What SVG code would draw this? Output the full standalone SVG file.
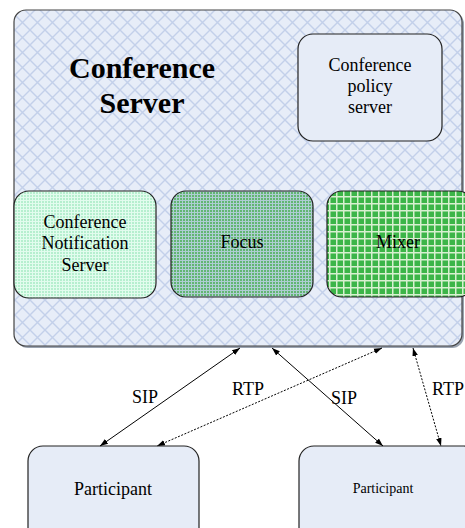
<svg xmlns="http://www.w3.org/2000/svg" width="465" height="528" viewBox="0 0 465 528">
<defs>
<pattern id="diamond" width="15" height="15" patternUnits="userSpaceOnUse">
<rect width="15" height="15" fill="#e7edf8"/>
<path d="M0,0 L15,15 M15,0 L0,15" stroke="#c3d0ea" stroke-width="1.4"/>
</pattern>
<pattern id="dotLight" width="3" height="3" patternUnits="userSpaceOnUse">
<rect width="3" height="3" fill="#e2fcee"/>
<rect width="2" height="2" fill="#b6efcf"/>
</pattern>
<pattern id="dotDark" width="3" height="3" patternUnits="userSpaceOnUse">
<rect width="3" height="3" fill="#aecdd2"/>
<rect width="2" height="2" fill="#62b672"/>
</pattern>
<pattern id="grid" width="7" height="7" patternUnits="userSpaceOnUse">
<rect width="7" height="7" fill="#d8f0d0"/>
<rect x="1.5" y="1.5" width="5.5" height="5.5" fill="#3cb548"/>
</pattern>
<marker id="ah" viewBox="0 0 10 10" refX="10" refY="5" markerWidth="8" markerHeight="8" markerUnits="userSpaceOnUse" orient="auto-start-reverse">
<path d="M0,1.5 L10,5 L0,8.5 Z" fill="#000"/>
</marker>
<style>
.box{stroke:#222;stroke-width:1.2}
.t{font-family:"Liberation Serif","Times New Roman",serif;font-size:18px;fill:#000;text-anchor:middle}
.c{stroke:#000;stroke-width:1;fill:none;marker-start:url(#ah);marker-end:url(#ah)}
.d{stroke-dasharray:2,1.5}
</style>
</defs>
<g id="conference-server">
<rect x="16" y="12" width="448" height="336" rx="12" fill="#9aa3b0"/>
<rect x="14" y="10" width="448" height="336" rx="12" fill="url(#diamond)" stroke="#444" stroke-width="1.2"/>
<text class="t" x="142" y="78" style="font-size:30px;font-weight:bold">Conference</text>
<text class="t" x="142" y="113" style="font-size:30px;font-weight:bold">Server</text>
</g>
<g id="policy-server">
<rect class="box" x="298" y="34" width="144" height="107" rx="15" fill="#e6ecf7"/>
<text class="t" x="370" y="71">Conference</text>
<text class="t" x="370" y="92">policy</text>
<text class="t" x="370" y="113">server</text>
</g>
<g id="notification-server">
<rect class="box" x="14" y="191" width="142" height="107" rx="15" fill="url(#dotLight)"/>
<text class="t" x="85" y="228">Conference</text>
<text class="t" x="85" y="249">Notification</text>
<text class="t" x="85" y="271">Server</text>
</g>
<g id="focus">
<rect class="box" x="171" y="191" width="142" height="106" rx="15" fill="url(#dotDark)"/>
<text class="t" x="242" y="248">Focus</text>
</g>
<g id="mixer">
<rect class="box" x="327" y="191" width="146" height="106" rx="15" fill="url(#grid)"/>
<text class="t" x="398" y="248">Mixer</text>
</g>
<g id="participant-1">
<rect class="box" x="28" y="446" width="171" height="100" rx="15" fill="#e6ecf7"/>
<text class="t" x="113" y="495">Participant</text>
</g>
<g id="participant-2">
<rect class="box" x="299" y="446" width="180" height="100" rx="15" fill="#e6ecf7"/>
<text class="t" x="383" y="493" style="font-size:14px">Participant</text>
</g>
<g id="connectors">
<line class="c" x1="240" y1="348" x2="100" y2="446"/>
<line class="c d" x1="382" y1="348" x2="157" y2="446"/>
<line class="c" x1="272" y1="348" x2="383" y2="446"/>
<line class="c d" x1="413" y1="348" x2="441" y2="446"/>
<text class="t" x="145" y="403">SIP</text>
<text class="t" x="248" y="395">RTP</text>
<text class="t" x="344" y="404">SIP</text>
<text class="t" x="448" y="395">RTP</text>
</g>
</svg>
